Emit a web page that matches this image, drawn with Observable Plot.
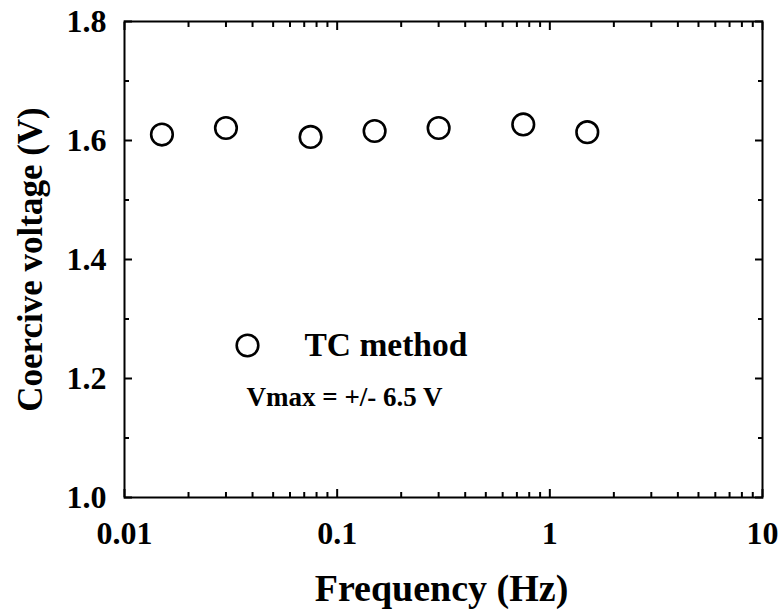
<!DOCTYPE html>
<html>
<head>
<meta charset="utf-8">
<script src="https://cdn.jsdelivr.net/npm/d3@7"></script>
<script src="https://cdn.jsdelivr.net/npm/@observablehq/plot@0.6"></script>
<style>
  html, body { margin: 0; padding: 0; background: #fff; }
  #chart svg { display: block; }
</style>
</head>
<body>
<div id="chart"></div>
<script>
// ---- data ----
const frequencies = [0.015, 0.03, 0.075, 0.15, 0.3, 0.75, 1.5];       // Hz
const coerciveVoltages = [1.610, 1.621, 1.606, 1.616, 1.621, 1.627, 1.614]; // V

const xMajorTicks = [0.01, 0.1, 1, 10];
const xTickLabels = ["0.01", "0.1", "1", "10"];
const xMinorTicks = [0.02, 0.03, 0.04, 0.05, 0.06, 0.07, 0.08, 0.09,
                     0.2, 0.3, 0.4, 0.5, 0.6, 0.7, 0.8, 0.9,
                     2, 3, 4, 5, 6, 7, 8, 9];
const yMajorTicks = [1.0, 1.2, 1.4, 1.6, 1.8];
const yTickLabels = ["1.0", "1.2", "1.4", "1.6", "1.8"];
const yMinorTicks = [1.1, 1.3, 1.5, 1.7];

const xTitle = "Frequency (Hz)";
const yTitle = "Coercive voltage (V)";
const legendLabel = "TC method";
const noteLabel = "Vmax = +/- 6.5 V";

const points = frequencies.map((f, i) => ({f, v: coerciveVoltages[i]}));

const font = "'Liberation Serif', 'Times New Roman', serif";
const tickW = 2;

function inwardTicksX(ticks, size) {
  return ["bottom", "top"].map(anchor => Plot.axisX(ticks, {
    anchor, tickSize: -size, tickFormat: () => "", label: null, strokeWidth: tickW
  }));
}
function inwardTicksY(ticks, size) {
  return ["left", "right"].map(anchor => Plot.axisY(ticks, {
    anchor, tickSize: -size, tickFormat: () => "", label: null, strokeWidth: tickW
  }));
}

const chart = Plot.plot({
  width: 783,
  height: 615,
  marginLeft: 124,
  marginRight: 21,
  marginTop: 21,
  marginBottom: 118,
  style: {fontFamily: font, fontWeight: "bold", fontSize: "32px", color: "black", background: "white"},
  x: {type: "log", domain: [0.01, 10]},
  y: {domain: [1.0, 1.8]},
  marks: [
    Plot.frame({stroke: "black", strokeWidth: 2}),
    ...inwardTicksX(xMajorTicks, 8),
    ...inwardTicksX(xMinorTicks, 5),
    ...inwardTicksY(yMajorTicks, 8),
    ...inwardTicksY(yMinorTicks, 5),
    Plot.axisX(xMajorTicks, {
      anchor: "bottom", tickSize: 0, tickPadding: 24, label: null,
      tickFormat: (d) => xTickLabels[xMajorTicks.indexOf(d)]
    }),
    Plot.axisY(yMajorTicks, {
      anchor: "left", tickSize: 0, tickPadding: 18, label: null,
      tickFormat: (d) => yTickLabels[yMajorTicks.indexOf(d)]
    }),
    Plot.dot(points, {x: "f", y: "v", r: 10.8, stroke: "black", strokeWidth: 2.6, fill: "none"}),
    // axis titles
    Plot.text([xTitle], {frameAnchor: "bottom", dy: 91, dx: -2, text: d => d, textAnchor: "middle", lineAnchor: "middle", fontSize: 38, fontWeight: "bold"}),
    Plot.text([yTitle], {frameAnchor: "left", dx: -94, rotate: -90, text: d => d, textAnchor: "middle", lineAnchor: "middle", fontSize: 35, fontWeight: "bold"}),
    // legend
    Plot.dot([legendLabel], {frameAnchor: "top-left", dx: 123, dy: 324, r: 10.8, stroke: "black", strokeWidth: 2.6, fill: "none"}),
    Plot.text([legendLabel], {frameAnchor: "top-left", dx: 180, dy: 324, text: d => d, textAnchor: "start", lineAnchor: "middle", fontSize: 33.5, fontWeight: "bold"}),
    Plot.text([noteLabel], {frameAnchor: "top-left", dx: 122, dy: 376, text: d => d, textAnchor: "start", lineAnchor: "middle", fontSize: 27, fontWeight: "bold"})
  ]
});
document.getElementById("chart").appendChild(chart);
</script>
</body>
</html>
